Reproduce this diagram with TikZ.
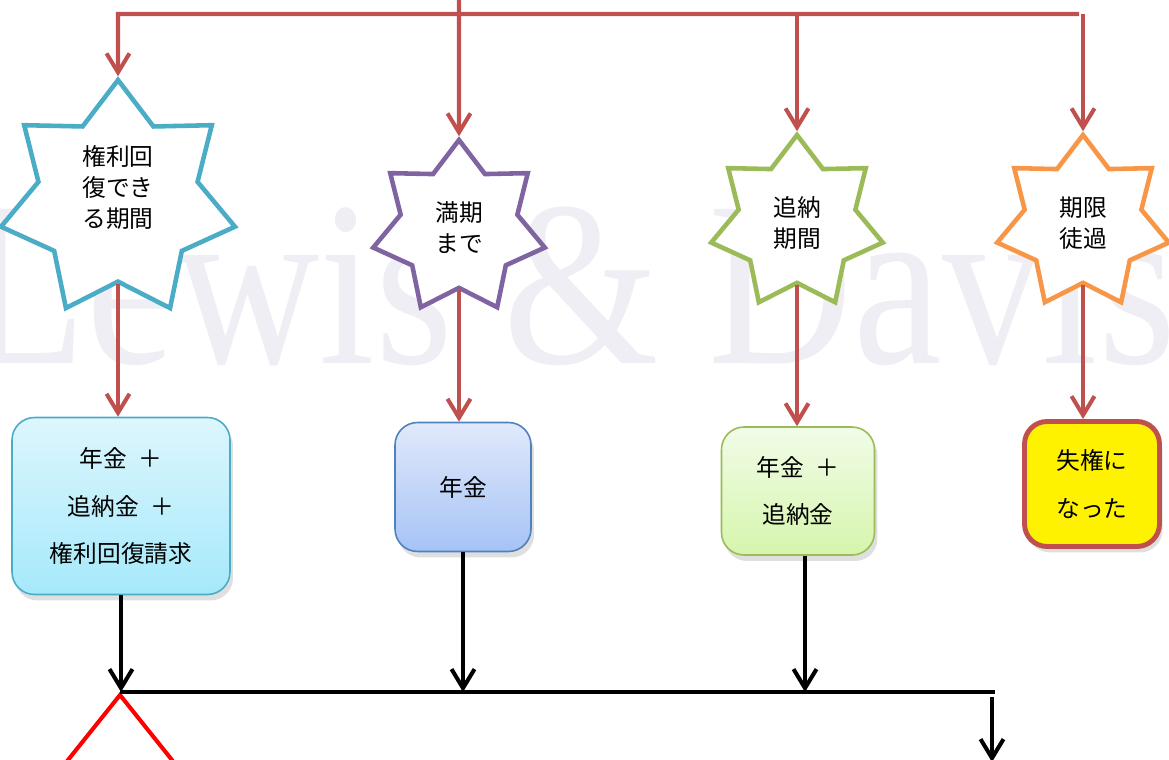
\documentclass[tikz,border=0pt]{standalone}
\usepackage{fontspec}
\usepackage{xcolor}
\usepackage{tikz}
\usetikzlibrary{arrows.meta}
\usetikzlibrary{calc}
\usetikzlibrary{shapes.geometric}
\usetikzlibrary{shadows}
\newfontfamily\jpfont{Noto Sans CJK JP}
\newfontfamily\markfont[FakeStretch=0.85]{Liberation Serif}

\definecolor{arrowred}{RGB}{192,80,77}
\definecolor{starcyan}{RGB}{75,172,198}
\definecolor{starpurple}{RGB}{128,100,162}
\definecolor{stargreen}{RGB}{155,187,89}
\definecolor{starorange}{RGB}{247,150,70}
\definecolor{boxblue}{RGB}{79,129,189}
\definecolor{markgray}{RGB}{239,238,244}

\tikzset{
  starnode/.style={star, star points=7, star point ratio=1.47, fill=white,
    line width=2.6pt, inner sep=0pt, align=center,
    font=\jpfont\fontsize{13.5}{17.6}\selectfont},
  boxnode/.style={rounded corners=0.45cm, line width=0.9pt, inner sep=0pt,
    align=center, font=\jpfont\fontsize{13.5}{27}\selectfont,
    drop shadow={opacity=0.25, shadow xshift=0.6mm, shadow yshift=-1.2mm}},
  redarrow/.style={line width=2.3pt, color=arrowred,
    -{Straight Barb[length=3.8mm, width=4.6mm]}},
  blackline/.style={line width=2.3pt, color=black},
  blackarrow/.style={blackline, -{Straight Barb[length=3.8mm, width=4.6mm]}}
}

\begin{document}
\begin{tikzpicture}[x=0.02cm, y=-0.02cm]
    \useasboundingbox (0,0) rectangle (1169,760);
    \clip (0,0) rectangle (1169,760);
    \node[anchor=base west, inner sep=0pt, text=markgray,
      font=\markfont\fontsize{134}{134}\selectfont] (W) at (-36,363) {Lewis \& Davis};

    \node[starnode, draw=starcyan, minimum size=4.8cm] (S1) at (118,200) {\raisebox{0.06cm}[0pt][0pt]{\begin{tabular}{@{}c@{}}権利回\\復でき\\る期間\end{tabular}}};
    \node[starnode, draw=starpurple, minimum size=3.52cm] (S2) at (459,228) {満期\\まで};
    \node[starnode, draw=stargreen, minimum size=3.52cm] (S3) at (797,223) {追納\\期間};
    \node[starnode, draw=starorange, minimum size=3.52cm] (S4) at (1083,223) {期限\\徒過};

    \node[boxnode, draw=starcyan, top color={rgb,255:red,221;green,246;blue,253},
      bottom color={rgb,255:red,165;green,233;blue,251},
      minimum width=4.36cm, minimum height=3.54cm] (B1) at (121,506) {年金\enspace＋\\追納金\enspace＋\\権利回復請求};
    \node[boxnode, draw=boxblue, top color={rgb,255:red,225;green,233;blue,251},
      bottom color={rgb,255:red,166;green,195;blue,246},
      minimum width=2.72cm, minimum height=2.58cm] (B2) at (463,487) {年金};
    \node[boxnode, draw=stargreen, top color={rgb,255:red,241;green,252;blue,232},
      bottom color={rgb,255:red,214;green,245;blue,172},
      minimum width=3.06cm, minimum height=2.56cm] (B3) at (798,491) {年金\enspace＋\\追納金};
    \node[boxnode, draw=arrowred, line width=2.8pt, fill=yellow,
      minimum width=2.7cm, minimum height=2.5cm] (B4) at (1092,484) {失権に\\なった};

    \node[diamond, draw=red, line width=2.3pt, aspect=0.8, minimum width=3.2cm,
      minimum height=4cm, inner sep=0pt, outer sep=0pt, anchor=north] (D) at (120,695) {};

    \coordinate (T) at (459,0);
    \coordinate (L) at (118,14);
    \coordinate (R) at (1079,14);
    \draw [redarrow] (R) -- (L) -- (S1.north);
    \draw [redarrow] (T) -- (S2.north);
    \draw [redarrow] (S3.north |- L) -- (S3.north);
    \draw [redarrow] (S4.north |- L) -- (S4.north);
    \draw [redarrow] (S1.south) -- (S1.south |- B1.north);
    \draw [redarrow] (S2.south) -- (S2.south |- B2.north);
    \draw [redarrow] (S3.south) -- (S3.south |- B3.north);
    \draw [redarrow] (S4.south) -- (S4.south |- B4.north);

    \coordinate (J1) at (120,692);
    \coordinate (J2) at (995,692);
    \coordinate (E) at (992,762);
    \draw [blackline] (J1) -- (J2);
    \draw [blackarrow] (B1.south) -- (B1.south |- J1);
    \draw [blackarrow] (B2.south) -- (B2.south |- J1);
    \draw [blackarrow] ($(B3.south)+(7,0)$) -- ($(B3.south |- J1)+(7,0)$);
    \draw [blackarrow] ($(E |- J2)+(0,5)$) -- (E);
\end{tikzpicture}
\end{document}
